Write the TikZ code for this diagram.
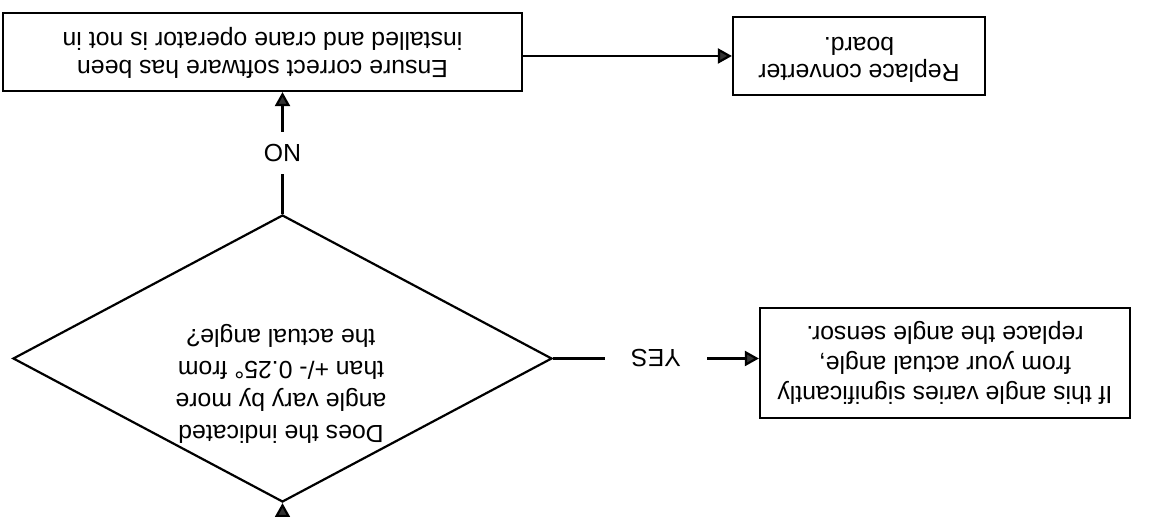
\documentclass[tikz,border=0pt]{standalone}
\usepackage{fontspec}
\setmainfont{Liberation Sans}
\usepackage{graphicx}
\usetikzlibrary{shapes.geometric,arrows.meta,positioning,calc}

% text of the scan is upside down
\newcommand{\upside}[2][14pt]{\rotatebox{180}{\fontsize{12.4}{#1}\selectfont
  \begin{tabular}{@{}c@{}}#2\end{tabular}}}

\begin{document}
\begin{tikzpicture}[x=0.5pt,y=-0.5pt,line width=1.1pt,
  box/.style={draw,rectangle,inner sep=0pt},
  decision/.style={draw,diamond,inner sep=0pt},
  flow/.style={-{Triangle[length=7pt,width=7.5pt,fill=black!80]}},
  lbl/.style={fill=white,inner xsep=13pt,inner ysep=6pt}]

\useasboundingbox (0,0) rectangle (1152,517);

\node[box,minimum width=259.5pt,minimum height=39pt] (ensure) at (262.5,52)
  {\upside[14pt]{Ensure correct software has been\\installed and crane operator is not in}};
\node[box,minimum width=126pt,minimum height=39pt] (board) at (859,56)
  {\upside[13.5pt]{Replace converter\\board.}};
\node[decision,minimum width=269.5pt,minimum height=143.5pt] (dia) at (282.5,358.5) {};
\node (question) at (281,384)
  {\upside[16pt]{Does the indicated\\angle vary by more\\than +/- 0.25° from\\the actual angle?}};
\node[box,minimum width=185pt,minimum height=55pt] (sensor) at (945,363)
  {\upside[15pt]{If this angle varies significantly\\from your actual angle,\\replace the angle sensor.}};
\coordinate (entry) at (282.5,540);

\draw[flow] (entry) -- (dia);
\draw[flow] (dia) -- node[lbl]{\rotatebox{180}{\fontsize{12.4}{14}\selectfont NO}} (dia.north |- ensure.south);
\draw[flow] (ensure.east |- board) -- (board);
\draw[flow] (dia) -- node[lbl]{\rotatebox{180}{\fontsize{12.4}{14}\selectfont YES}} (dia.east -| sensor.west);
\end{tikzpicture}
\end{document}
